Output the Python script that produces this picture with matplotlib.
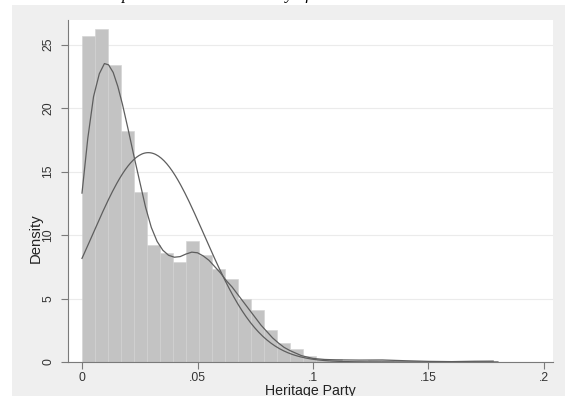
import numpy as np
import matplotlib
matplotlib.use("Agg")
import matplotlib.pyplot as plt
from matplotlib.patches import Rectangle

# ---------------- data ----------------
bin_start = 0.0
bin_width = 0.005625
bar_heights = [25.7, 26.2, 23.4, 18.2, 13.4, 9.2, 8.6, 7.9, 9.5, 8.4,
               7.3, 6.5, 5.0, 4.1, 2.5, 1.5, 1.0, 0.45, 0.25, 0.2,
               0.1, 0.1, 0.15, 0.15, 0.05, 0.05, 0.0, 0.0, 0.0, 0.0,
               0.1, 0.1]

kde_x = [0.0, 0.0025, 0.005, 0.0075, 0.0097, 0.0115, 0.0135, 0.0155,
         0.0175, 0.02, 0.0225, 0.025, 0.0275, 0.03, 0.0325, 0.035, 0.0375,
         0.04, 0.0425, 0.045, 0.0475, 0.05, 0.0525, 0.055, 0.0575, 0.06,
         0.0625, 0.065, 0.0675, 0.07, 0.0725, 0.075, 0.0775, 0.08, 0.0825,
         0.085, 0.0875, 0.09, 0.095, 0.1, 0.105, 0.11, 0.12, 0.13, 0.14,
         0.15, 0.16, 0.17, 0.178]
kde_y = [13.3, 17.6, 20.9, 22.7, 23.5, 23.4, 22.8, 21.7,
         20.3, 18.3, 16.2, 14.2, 12.2, 10.6, 9.5, 8.8, 8.4,
         8.25, 8.3, 8.5, 8.65, 8.6, 8.35, 8.0, 7.5, 7.0,
         6.4, 5.9, 5.3, 4.7, 4.1, 3.5, 2.9, 2.4, 1.9,
         1.5, 1.15, 0.9, 0.5, 0.28, 0.2, 0.17, 0.15, 0.16, 0.1,
         0.05, 0.03, 0.06, 0.07]

normal_mean = 0.0287
normal_sd = 0.0242
data_min, data_max = 0.0, 0.18

x_ticks = [0, 0.05, 0.1, 0.15, 0.2]
x_ticklabels = ["0", ".05", ".1", ".15", ".2"]
y_ticks = [0, 5, 10, 15, 20, 25]
y_ticklabels = ["0", "5", "10", "15", "20", "25"]
x_label = "Heritage Party"
y_label = "Density"
title_text = "Empirical and kernel density of vote share"

plt.rcParams["font.family"] = ["Liberation Sans", "DejaVu Sans"]

# ---------------- figure ----------------
W, H = 565, 396
fig = plt.figure(figsize=(W / 100, H / 100), dpi=100)
fig.patch.set_facecolor("white")

# grey Stata-like panel
fig.add_artist(Rectangle((12 / W, 0), 1 - 12 / W, (H - 5) / H,
                         transform=fig.transFigure, facecolor="#efefef",
                         edgecolor="none", zorder=0))

# cut-off title at the very top
fig.text(100 / W, 1 + 1.0 / H, title_text, ha="left", va="baseline",
         fontsize=12, family="Liberation Serif", style="italic",
         color="black")

ax = fig.add_axes([68 / W, 34 / H, 485 / W, 342 / H])
ax.set_facecolor("white")

edges = bin_start + bin_width * np.arange(len(bar_heights))
ax.bar(edges, bar_heights, width=bin_width, align="edge",
       color="#c3c3c3", edgecolor="#d2d2d2", linewidth=0.4, zorder=2)

ax.plot(kde_x, kde_y, color="#5e5e5e", lw=0.9, zorder=3)
xn = np.linspace(data_min, data_max, 300)
yn = np.exp(-0.5 * ((xn - normal_mean) / normal_sd) ** 2) / (normal_sd * np.sqrt(2 * np.pi))
ax.plot(xn, yn, color="#5e5e5e", lw=0.9, zorder=3)

ax.set_xlim(-14 / 2310, 471 / 2310)
ax.set_ylim(0, 26.93)

ax.set_xticks(x_ticks)
ax.set_xticklabels(x_ticklabels)
ax.set_yticks(y_ticks)
ax.set_yticklabels(y_ticklabels, rotation=90, va="center")

ax.yaxis.grid(True, color="#ebebeb", lw=0.8)
ax.set_axisbelow(True)

for s in ["top", "right"]:
    ax.spines[s].set_visible(False)
for s in ["left", "bottom"]:
    ax.spines[s].set_color("#7a7a7a")
    ax.spines[s].set_linewidth(0.8)

ax.tick_params(axis="both", direction="out", length=5, width=0.8,
               color="#7a7a7a", labelsize=8.7, labelcolor="#333333")
ax.tick_params(axis="y", pad=5)
ax.tick_params(axis="x", pad=2.0)

fig.text(36 / W, 1 - 238 / H, y_label, rotation=90, ha="center",
         va="center", fontsize=10.7, color="#222222")
fig.text(310 / W, (H - 395) / H, x_label, ha="center", va="baseline",
         fontsize=10.2, color="#222222")

fig.savefig("out.png", dpi=100)
